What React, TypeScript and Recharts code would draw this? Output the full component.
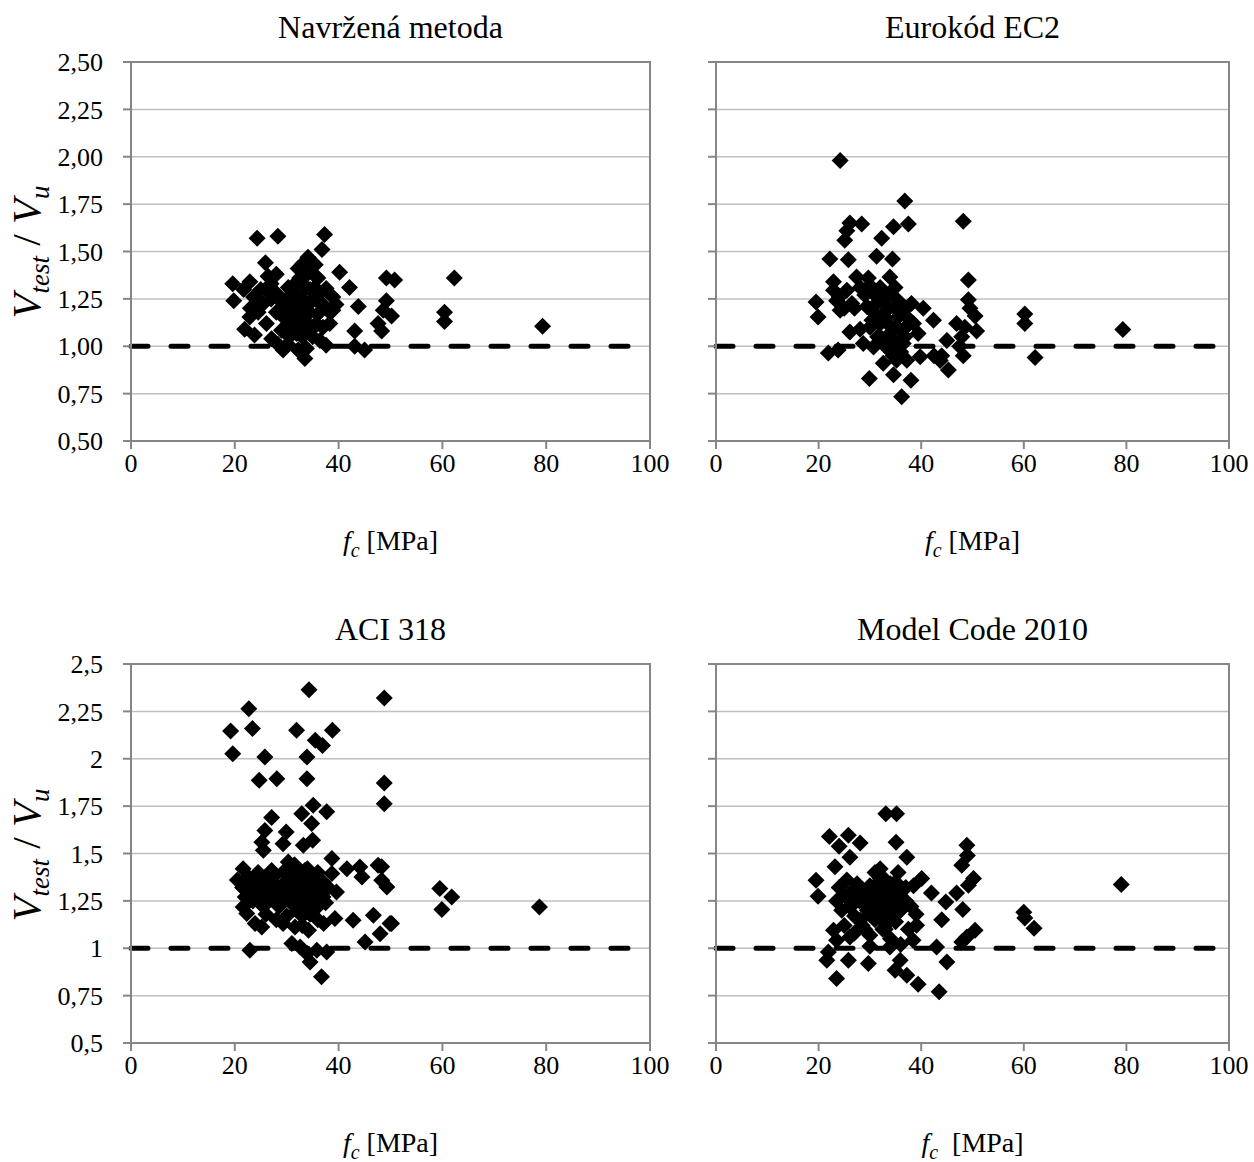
import React from "react";
import { ScatterChart, Scatter, XAxis, YAxis, CartesianGrid, ReferenceLine, ReferenceArea } from "recharts";

// [fc (MPa), Vtest / Vu]
const navrzenaMetoda: [number, number][] = [
  [24.3, 1.57], [28.3, 1.58], [37.3, 1.59], [36.8, 1.51], [25.9, 1.44], [34.1, 1.46], [40.2, 1.39], [42.1, 1.31],
  [19.6, 1.33], [19.8, 1.24], [21.9, 1.09], [23.8, 1.06], [49.2, 1.36], [50.8, 1.35], [49.2, 1.24], [48.6, 1.19],
  [50.2, 1.16], [47.6, 1.12], [48.3, 1.08], [43.8, 1.21], [43.1, 1.08], [45.0, 0.98], [43.1, 1.0], [62.3, 1.36],
  [60.4, 1.18], [60.4, 1.13], [79.3, 1.105], [33.5, 0.935], [30.2, 1.01], [28.3, 1.01],
  [22.9, 1.34], [26.4, 1.37], [28, 1.38], [30.3, 1.31], [32.2, 1.41], [34.4, 1.4], [35.4, 1.31], [37.6, 1.305],
  [38.9, 1.26], [38.9, 1.19], [23.6, 1.26], [21.7, 1.3], [25.5, 1.225], [24.5, 1.18], [28, 1.18], [29.3, 1.225],
  [32.5, 1.26], [33.8, 1.31], [31, 1.155], [33.5, 1.155], [36.4, 1.225], [38.3, 1.12], [26.1, 1.12], [29, 1.085],
  [31.9, 1.067], [34.7, 1.085], [36.4, 1.03], [37.6, 1.005], [33.8, 0.988], [32.2, 0.98], [29.3, 0.98], [27.1, 1.04],
  [30.6, 1.1], [34.4, 1.225], [35.7, 1.366], [33.1, 1.436], [34.1, 1.47], [33.1, 1.357], [36.4, 1.28], [31.2, 1.225],
  [22.9, 1.155], [38.3, 1.18], [28, 1.28], [31.9, 1.18], [35.7, 1.12], [32.8, 1.12],
  [30, 1.2], [31, 1.3], [32, 1.34], [33, 1.25], [34, 1.19], [35, 1.25], [36, 1.17], [37, 1.22],
  [35, 1.05], [33, 1.05], [31, 1.12], [29.5, 1.15], [27, 1.25], [26, 1.3], [24, 1.22], [25, 1.3],
  [36, 1.36], [34.5, 1.3], [32.5, 1.36], [30, 1.25], [35.5, 1.43], [33, 1.2], [37, 1.1], [34, 1.12],
  [30.5, 1.05], [23, 1.2], [27, 1.33], [39.5, 1.22],
];

const eurokodEC2: [number, number][] = [
  [24.2, 1.98], [36.8, 1.767], [48.2, 1.66], [26.1, 1.65], [28.4, 1.645], [25.5, 1.61], [25.1, 1.56], [32.3, 1.57],
  [34.6, 1.63], [37.5, 1.645], [22.2, 1.46], [25.8, 1.457], [31.3, 1.475], [34.4, 1.46], [49.2, 1.35], [19.5, 1.234],
  [19.9, 1.155], [42.4, 1.137], [45.0, 1.03], [60.2, 1.17], [60.2, 1.12], [62.2, 0.94], [79.3, 1.088], [21.9, 0.965],
  [23.8, 0.98], [29.9, 0.83], [36.2, 0.734], [38.0, 0.82], [45.3, 0.875], [43.7, 0.925], [48.2, 0.95], [49.2, 1.245],
  [50.8, 1.08], [50.5, 1.16], [46.9, 1.12], [47.9, 1.05],
  [22.9, 1.34], [27.4, 1.366], [29.7, 1.36], [33.9, 1.366], [32, 1.31], [34.9, 1.31], [23.5, 1.24], [26.5, 1.225],
  [29.4, 1.21], [28.1, 1.31], [24.2, 1.19], [32.6, 1.26], [35.5, 1.24], [38.1, 1.225], [40.4, 1.2], [30.4, 1.137],
  [26.1, 1.075], [28.1, 1.09], [32, 1.12], [33.9, 1.067], [35.9, 1.085], [37.8, 1.137], [39.4, 1.067], [28.7, 1.014],
  [30.7, 0.996], [33.9, 0.98], [36.5, 1.014], [39.8, 0.945], [32.6, 0.91], [34.6, 0.85], [35.2, 0.926], [37.2, 0.926],
  [33.6, 1.03], [35.5, 1.155], [33.3, 1.19], [31.3, 1.225], [25.5, 1.295], [22.9, 1.295], [33, 1.15], [34.2, 1.1],
  [35, 1.2], [31.5, 1.05], [36.8, 1.05], [34.5, 1.0], [42.5, 0.95], [44, 0.95], [47.5, 1.0], [48.5, 1.1], [49.5, 1.2],
  [31, 1.27], [30, 1.32], [33, 1.22], [34, 1.28], [36, 1.18], [37, 1.1], [33, 1.0], [35, 1.1],
  [36, 0.97], [32, 1.05], [30, 1.1], [27, 1.2], [25, 1.2], [24, 1.26], [29, 1.27], [31, 1.17],
  [37, 1.2], [35, 1.02], [38.5, 1.12], [34.5, 0.95],
];

const aci318: [number, number][] = [
  [34.3, 2.364], [48.8, 2.32], [22.7, 2.264], [19.2, 2.146], [23.4, 2.159], [31.9, 2.15], [38.8, 2.15], [35.5, 2.097],
  [36.9, 2.07], [19.6, 2.027], [25.8, 2.009], [33.9, 2.009], [24.7, 1.886], [28.1, 1.895], [33.9, 1.895], [48.8, 1.872],
  [48.8, 1.763], [35.1, 1.754], [32.9, 1.71], [37.7, 1.72], [27.1, 1.69], [34.8, 1.658], [25.8, 1.622], [29.9, 1.613],
  [25.2, 1.56], [29.3, 1.552], [35.0, 1.57], [33.2, 1.543], [25.5, 1.517],
  [21.6, 1.42], [27.1, 1.41], [30.3, 1.455], [38.7, 1.473], [41.6, 1.42], [44.1, 1.429], [47.6, 1.438], [44.5, 1.376],
  [38.7, 1.394], [49.3, 1.323], [48.3, 1.359], [39.6, 1.297], [59.5, 1.315], [61.8, 1.27], [59.9, 1.204], [21.6, 1.218],
  [22.3, 1.183], [23.9, 1.13], [25.2, 1.112], [42.8, 1.148], [39.3, 1.157], [46.7, 1.174], [50.2, 1.13], [48.0, 1.077],
  [45.1, 1.033], [22.9, 0.99], [31.0, 1.025], [32.6, 1.007], [34.5, 0.928], [36.7, 0.849], [37.7, 0.98], [35.8, 0.99],
  [33.9, 0.972], [29.3, 1.13], [31.6, 1.112], [34.2, 1.095], [37.1, 1.13], [78.7, 1.218], [49.9, 1.13], [48.3, 1.43],
  [20.5, 1.36], [21.5, 1.32], [22.5, 1.38], [23, 1.3], [23.5, 1.25], [24, 1.34], [24.5, 1.4], [25, 1.28],
  [25.5, 1.22], [26, 1.36], [26.5, 1.31], [27, 1.26], [27.5, 1.38], [28, 1.33], [28.5, 1.22], [29, 1.29],
  [29.5, 1.4], [30, 1.35], [30.5, 1.25], [31, 1.31], [31.5, 1.44], [32, 1.37], [32, 1.2], [32.5, 1.28],
  [33, 1.33], [33.5, 1.41], [33.5, 1.23], [34, 1.3], [34.5, 1.36], [34.5, 1.18], [35, 1.27], [35.5, 1.33],
  [36, 1.22], [36, 1.4], [36.5, 1.29], [37, 1.35], [37.5, 1.24], [38, 1.32], [28, 1.15], [26, 1.18],
  [30, 1.17], [36, 1.15], [33, 1.12],
  [30, 1.3], [31, 1.38], [32, 1.3], [33, 1.27], [34, 1.35], [35, 1.3], [29, 1.33], [27, 1.3],
  [25, 1.33], [23, 1.35], [36, 1.32], [31, 1.24], [33, 1.17], [35, 1.22], [28, 1.27], [26, 1.24],
  [22, 1.27], [34, 1.42], [37, 1.27], [30, 1.42],
];

const modelCode2010: [number, number][] = [
  [33.1, 1.71], [35.2, 1.71], [22.1, 1.59], [25.8, 1.596], [28.1, 1.555], [24.0, 1.538], [35.1, 1.56], [37.2, 1.48],
  [48.9, 1.543], [49.0, 1.49], [47.9, 1.438], [26.1, 1.48], [23.2, 1.43], [32.0, 1.42], [19.5, 1.359], [19.9, 1.274],
  [40.1, 1.368], [50.2, 1.368], [49.2, 1.332], [42.0, 1.292], [46.9, 1.292], [44.8, 1.244], [48.1, 1.204], [44.0, 1.151],
  [50.5, 1.095], [48.9, 1.06], [47.9, 1.033], [43.0, 1.007], [45.0, 0.928], [43.5, 0.77], [39.4, 0.81], [37.2, 0.858],
  [34.9, 0.884], [35.9, 0.937], [29.7, 0.919], [25.8, 0.937], [23.5, 0.84], [21.9, 0.98], [21.6, 0.937], [22.9, 1.095],
  [23.5, 1.042], [26.1, 1.06], [28.1, 1.148], [30.0, 1.069], [39.1, 1.121], [38.4, 1.042], [33.9, 1.007],
  [60, 1.19], [60.2, 1.16], [62, 1.105], [79, 1.337],
  [23.5, 1.25], [24, 1.32], [24.5, 1.2], [25, 1.28], [25.5, 1.36], [26, 1.22], [26.5, 1.3], [27, 1.17],
  [27.5, 1.34], [28, 1.25], [28.5, 1.12], [29, 1.29], [29.5, 1.2], [30, 1.33], [30.5, 1.24], [31, 1.15],
  [31.5, 1.28], [32, 1.37], [32, 1.21], [32.5, 1.1], [33, 1.3], [33, 1.25], [33.5, 1.18], [34, 1.34],
  [34, 1.05], [34.5, 1.23], [35, 1.29], [35, 1.14], [35.5, 1.4], [36, 1.2], [36.5, 1.31], [37, 1.25],
  [37.5, 1.1], [38, 1.22], [38.5, 1.33], [39, 1.18], [31, 1.4], [27, 1.08], [25, 1.12], [36, 1.02], [30, 1.01],
  [30, 1.27], [31, 1.22], [32, 1.28], [33, 1.2], [34, 1.26], [35, 1.22], [29, 1.24], [28, 1.3],
  [27, 1.24], [31, 1.33], [33, 1.36], [34, 1.15], [32, 1.16], [36, 1.27], [30, 1.18], [26, 1.27],
  [37, 1.32], [35, 1.35], [33, 1.1], [29, 1.1],
];

const fcTicks = [0, 20, 40, 60, 80, 100];
const ratioTicks = [0.5, 0.75, 1, 1.25, 1.5, 1.75, 2, 2.25, 2.5];
const ratioLabelsFixed = ["0,50", "0,75", "1,00", "1,25", "1,50", "1,75", "2,00", "2,25", "2,50"];
const ratioLabelsGeneral = ["0,5", "0,75", "1", "1,25", "1,5", "1,75", "2", "2,25", "2,5"];

const FONT = "'Liberation Serif', serif";
const PLOT_H = 379;
const Y_AXIS_W = 80;
const M_TOP = 20;
const M_RIGHT = 30;

const Diamond = (props: any) => {
  const { cx, cy } = props;
  const r = 8.5;
  return <path d={`M${cx},${cy - r}L${cx + r},${cy}L${cx},${cy + r}L${cx - r},${cy}Z`} fill="#000" />;
};

type PanelProps = {
  left: number; // plot-area left edge on the page
  top: number; // plot-area top edge
  plotW: number;
  title: string;
  points: [number, number][];
  labels: string[] | null;
  xTitleGap?: string;
};

function Panel({ left, top, plotW, title, points, labels, xTitleGap = " " }: PanelProps) {
  const data = points.map(([fc, ratio]) => ({ fc, ratio }));
  const cx = left + plotW / 2;
  return (
    <>
      <div
        style={{
          position: "absolute",
          left: cx - 200,
          width: 400,
          top: top - 51,
          textAlign: "center",
          fontFamily: FONT,
          fontSize: 32,
          lineHeight: "32px",
        }}
      >
        {title}
      </div>
      <div style={{ position: "absolute", left: left - Y_AXIS_W, top: top - M_TOP }}>
        <ScatterChart
          width={Y_AXIS_W + plotW + M_RIGHT}
          height={M_TOP + PLOT_H + 40 + 10}
          margin={{ top: M_TOP, right: M_RIGHT, bottom: 10, left: 0 }}
        >
          <CartesianGrid vertical={false} stroke="#c0c0c0" strokeWidth={1.5} />
          <XAxis
            type="number"
            dataKey="fc"
            domain={[0, 100]}
            ticks={fcTicks}
            interval={0}
            height={40}
            stroke="#868686"
            strokeWidth={2}
            tickSize={8}
            tickMargin={5}
            tick={{ fill: "#000", fontSize: 26, fontFamily: FONT }}
          />
          <YAxis
            type="number"
            dataKey="ratio"
            domain={[0.5, 2.5]}
            ticks={ratioTicks}
            interval={0}
            width={Y_AXIS_W}
            stroke="#868686"
            strokeWidth={2}
            tickSize={8}
            tickMargin={20}
            tick={{ fill: "#000", fontSize: 26, fontFamily: FONT }}
            tickFormatter={(v: number) => (labels ? labels[ratioTicks.indexOf(v)] : "")}
          />
          <ReferenceArea x1={0} x2={100} y1={0.5} y2={2.5} fill="none" stroke="#868686" strokeWidth={2} />
          <ReferenceLine
            y={1}
            stroke="#000"
            strokeWidth={5}
            strokeDasharray="17 23"
            strokeLinecap="round"
          />
          <Scatter data={data} shape={Diamond} isAnimationActive={false} />
        </ScatterChart>
      </div>
      <div
        style={{
          position: "absolute",
          left: cx - 150,
          width: 300,
          top: top + PLOT_H + 84,
          height: 40,
          textAlign: "center",
          fontFamily: FONT,
          fontSize: 28,
          lineHeight: "32px",
          whiteSpace: "pre",
        }}
      >
        <i>f</i>
        <sub style={{ fontSize: 20, fontStyle: "italic", lineHeight: 0 }}>c</sub>
        {xTitleGap}[MPa]
      </div>
    </>
  );
}

function YTitle({ cy }: { cy: number }) {
  return (
    <div
      style={{
        position: "absolute",
        left: 26 - 150,
        width: 300,
        top: cy - 22,
        height: 44,
        lineHeight: "44px",
        textAlign: "center",
        transform: "rotate(-90deg)",
        fontFamily: FONT,
        fontSize: 41,
        whiteSpace: "pre",
      }}
    >
      <i>V</i>
      <sub style={{ fontSize: 27, fontStyle: "italic", lineHeight: 0 }}>test</sub>
      {" / "}
      <i>V</i>
      <sub style={{ fontSize: 27, fontStyle: "italic", lineHeight: 0 }}>u</sub>
    </div>
  );
}

export default function App() {
  return (
    <div style={{ position: "relative", width: 1254, height: 1162, background: "#fff", overflow: "hidden" }}>
      <style>{`body{margin:0}`}</style>
      <Panel left={131} top={61.5} plotW={519} title="Navržená metoda" points={navrzenaMetoda} labels={ratioLabelsFixed} />
      <Panel left={716} top={61.5} plotW={513} title="Eurokód EC2" points={eurokodEC2} labels={null} />
      <Panel left={131} top={664} plotW={519} title="ACI 318" points={aci318} labels={ratioLabelsGeneral} />
      <Panel left={716} top={664} plotW={513} title="Model Code 2010" points={modelCode2010} labels={null} xTitleGap="  " />
      <YTitle cy={252} />
      <YTitle cy={855} />
    </div>
  );
}
